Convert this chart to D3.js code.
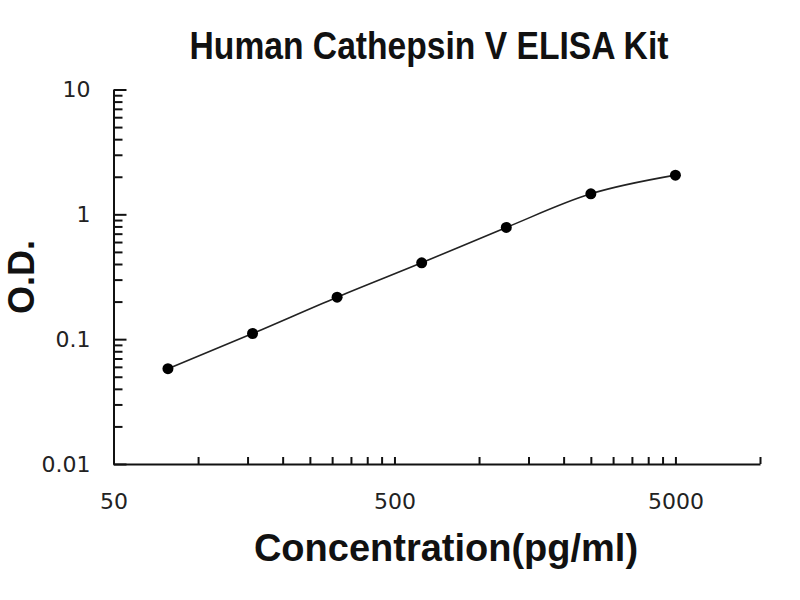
<!DOCTYPE html>
<html>
<head>
<meta charset="utf-8">
<script src="https://cdn.jsdelivr.net/npm/d3@7"></script>
<style>
  html, body { margin: 0; padding: 0; background: #fff; }
  svg { display: block; }
  .title, .axis-label { font-family: "Liberation Sans", Arial, sans-serif; font-weight: bold; fill: #111; }
  .tick text { font-family: "DejaVu Sans", sans-serif; fill: #222; }
</style>
</head>
<body>
<div id="chart"></div>
<script>
// standard curve points
const concentrations = [78.125, 156.25, 312.5, 625, 1250, 2500, 5000];
const odValues = [0.058, 0.111, 0.217, 0.409, 0.785, 1.46, 2.06];

const xTickLabels = [50, 500, 5000];
const yTickLabels = [0.01, 0.1, 1, 10];

const svgWidth = 800;
const svgHeight = 600;

const svg = d3.select("#chart").append("svg")
  .attr("width", svgWidth)
  .attr("height", svgHeight);

const xScale = d3.scaleLog()
  .domain([50, 10000])
  .range([113.5, 760]);

const yScale = d3.scaleLog()
  .domain([0.01, 10])
  .range([464, 89.5]);

// minor ticks: multiples of 50, 500, 5000 on x; 1..10 per decade on y
const xTicks = [];
xTickLabels.forEach(dec => {
  for (let k = 1; k <= 10; k++) {
    const v = k * dec;
    if (v <= 10000 && !xTicks.includes(v)) xTicks.push(v);
  }
});
const yMinor = [];
yTickLabels.slice(0, -1).forEach(dec => {
  for (let k = 2; k <= 9; k++) yMinor.push(k * dec);
});

// x axis
const xAxis = svg.append("g")
  .attr("transform", `translate(0,${yScale(0.01)})`)
  .call(d3.axisBottom(xScale)
    .tickValues(xTicks)
    .tickSizeInner(-7)
    .tickSizeOuter(0)
    .tickPadding(29)
    .tickFormat(d => xTickLabels.includes(d) ? d : ""));

// y axis, minor then major
const yAxisMinor = svg.append("g")
  .attr("transform", `translate(${xScale(50)},0)`)
  .call(d3.axisLeft(yScale)
    .tickValues(yMinor)
    .tickSizeInner(-9)
    .tickSizeOuter(0)
    .tickFormat(""));

const yAxis = svg.append("g")
  .attr("transform", `translate(${xScale(50)},0)`)
  .call(d3.axisLeft(yScale)
    .tickValues(yTickLabels)
    .tickSizeInner(-13)
    .tickSizeOuter(0)
    .tickPadding(23)
    .tickFormat(d => d));

[xAxis, yAxisMinor, yAxis].forEach(g => {
  g.select(".domain").attr("stroke", "#111").attr("stroke-width", 2);
  g.selectAll(".tick line").attr("stroke", "#111").attr("stroke-width", 2);
  g.selectAll(".tick text").attr("font-size", 22);
});

// fitted line through points
const pts = concentrations.map((c, i) => ({ x: c, y: odValues[i] }));

const line = d3.line()
  .x(d => xScale(d.x))
  .y(d => yScale(d.y))
  .curve(d3.curveMonotoneX);

svg.append("path")
  .datum(pts)
  .attr("fill", "none")
  .attr("stroke", "#222")
  .attr("stroke-width", 1.6)
  .attr("d", line);

svg.selectAll(".dot")
  .data(pts)
  .enter()
  .append("circle")
  .attr("class", "dot")
  .attr("cx", d => xScale(d.x))
  .attr("cy", d => yScale(d.y))
  .attr("r", 5.5)
  .attr("fill", "#000");

// labels
svg.append("text")
  .attr("class", "title")
  .attr("transform", "translate(429,59) scale(0.885,1)")
  .attr("text-anchor", "middle")
  .attr("font-size", 38)
  .text("Human Cathepsin V ELISA Kit");

svg.append("text")
  .attr("class", "axis-label")
  .attr("x", 446)
  .attr("y", 561)
  .attr("text-anchor", "middle")
  .attr("font-size", 38)
  .text("Concentration(pg/ml)");

svg.append("text")
  .attr("class", "axis-label")
  .attr("transform", "translate(34,277) rotate(-90)")
  .attr("text-anchor", "middle")
  .attr("font-size", 36)
  .text("O.D.");
</script>
</body>
</html>
